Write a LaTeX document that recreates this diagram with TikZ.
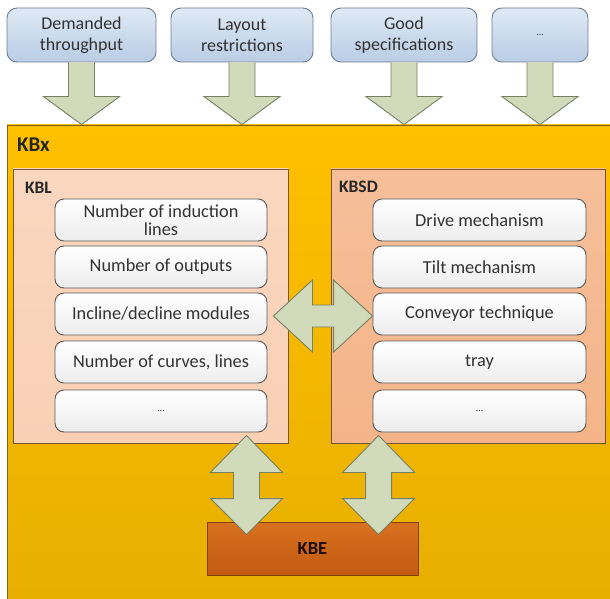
\documentclass[tikz,border=0pt]{standalone}
\usepackage{fontspec}
\setmainfont{Carlito}
\usepackage{tikz}
\usetikzlibrary{calc,positioning}
\definecolor{inBlueTop}  {RGB}{222, 233, 245}
\definecolor{inBlueBot}  {RGB}{185, 205, 229}
\definecolor{inBlueEdge} {RGB}{110, 125, 140}
\definecolor{kbxGold}    {RGB}{255, 192,   0}
\definecolor{kbxGoldBot} {RGB}{232, 175,   0}
\definecolor{kbxEdge}    {RGB}{130, 100,  30}
\definecolor{kblPeach}   {RGB}{249, 208, 180}
\definecolor{kbsdPeach}  {RGB}{244, 180, 136}
\definecolor{peachEdge}  {RGB}{120,  85,  55}
\definecolor{kbeTop}     {RGB}{216, 113,  31}
\definecolor{kbeBot}     {RGB}{194,  90,  18}
\definecolor{kbeEdge}    {RGB}{130,  62,  12}
\definecolor{arrowSage}  {RGB}{210, 218, 188}
\definecolor{arrowEdge}  {RGB}{120, 128, 100}
\definecolor{txtGrey}    {RGB}{ 50,  50,  50}

% block arrows: straight down, double vertical, double horizontal
\newcommand\blkdown[2]{%
  \draw[blockarrow] let \p1=(#1), \p2=(#2) in
    (\x1-13,\y1) -- (\x1-13,\y2+28) -- (\x1-38,\y2+28) -- (\x1,\y2)
    -- (\x1+38,\y2+28) -- (\x1+13,\y2+28) -- (\x1+13,\y1);}
\newcommand\blkdblv[2]{%
  \draw[blockarrow] let \p1=(#1), \p2=(#2) in
    (\x1,\y1) -- (\x1+36,\y1-37) -- (\x1+13,\y1-37) -- (\x1+13,\y2+36)
    -- (\x1+36,\y2+36) -- (\x1,\y2) -- (\x1-36,\y2+36) -- (\x1-13,\y2+36)
    -- (\x1-13,\y1-37) -- (\x1-36,\y1-37) -- cycle;}
\newcommand\blkdblh[2]{%
  \draw[blockarrow] let \p1=(#1), \p2=(#2) in
    (\x1,\y1) -- (\x1+39,\y1+36) -- (\x1+39,\y1+11) -- (\x2-39,\y1+11)
    -- (\x2-39,\y1+36) -- (\x2,\y1) -- (\x2-39,\y1-36) -- (\x2-39,\y1-11)
    -- (\x1+39,\y1-11) -- (\x1+39,\y1-36) -- cycle;}

\begin{document}
\begin{tikzpicture}[x=1pt,y=1pt,
    topbox/.style={draw=inBlueEdge,line width=0.9pt,rounded corners=10pt,
      top color=inBlueTop,bottom color=inBlueBot,minimum height=54pt,
      align=center,text=txtGrey,font=\fontsize{18}{21}\selectfont,inner sep=0pt},
    inbox/.style={draw=black!65,line width=0.9pt,rounded corners=9pt,
      top color=white,bottom color=black!7,minimum width=212pt,
      minimum height=42pt,align=center,text=txtGrey,
      font=\fontsize{18.3}{18.5}\selectfont,inner sep=0pt},
    groupbox/.style={draw=peachEdge,line width=0.9pt,minimum width=275pt,
      minimum height=274pt,inner sep=0pt},
    grouplabel/.style={anchor=base west,font=\fontsize{17.5}{17.5}\bfseries,
      text=black!85},
    blockarrow/.style={fill=arrowSage,draw=arrowEdge,line width=0.9pt,
      line join=miter}]

    \useasboundingbox (0,0) rectangle (610,598);
    \clip (0,0) rectangle (610,598);

    % ════════ inputs (top row) ════════
    \node[topbox,minimum width=149pt] (dem)  at (81.5,563) {Demanded\\throughput};
    \node[topbox,minimum width=142pt] (lay)  at (242,563)  {Layout\\restrictions};
    \node[topbox,minimum width=146pt] (good) at (404,563)  {Good\\specifications};
    \node[topbox,minimum width=96pt]  (more) at (540,563)
      {\fontsize{10}{10}\selectfont\ldots};

    % ════════ KBx frame ════════
    \node[draw=kbxEdge,line width=0.9pt,top color=kbxGold,bottom color=kbxGoldBot,
          minimum width=605pt,minimum height=475pt,inner sep=0pt]
      (kbx) at (309.5,235.5) {};
    \node[anchor=base west,font=\fontsize{21}{21}\bfseries,text=black!85]
      (kbxlbl) at ($(kbx.north west)+(7,-27)$) {KBx};

    % arrows from the inputs into KBx
    \foreach \t in {dem,lay,good,more}{
      \blkdown{\t.south}{\t.south |- kbx.north}
    }

    % ════════ KBL (left) ════════
    \node[groupbox,top color=kblPeach!85!white,bottom color=kblPeach]
      (kbl) at (150.5,292) {};
    \node[grouplabel] (kbllbl) at ($(kbl.north west)+(9,-25)$) {KBL};
    \foreach \nm/\txt/\y in {l1/{Number of induction\\lines}/378,
                             l2/{Number of outputs}/331,
                             l3/{Incline/decline modules}/284,
                             l4/{Number of curves, lines}/236,
                             l5/{\fontsize{10}{10}\selectfont\ldots}/187}{
      \node[inbox] (\nm) at (161,\y) {\txt};
    }

    % ════════ KBSD (right) ════════
    \node[groupbox,minimum width=274pt,top color=kbsdPeach!85!white,
          bottom color=kbsdPeach] (kbsd) at (468,292) {};
    \node[grouplabel] (kbsdlbl) at ($(kbsd.north west)+(5,-24)$) {KBSD};
    \foreach \nm/\txt/\y in {r1/{Drive mechanism}/378,
                             r2/{Tilt mechanism}/331,
                             r3/{Conveyor technique}/284,
                             r4/{tray}/236,
                             r5/{\fontsize{10}{10}\selectfont\ldots}/187}{
      \node[inbox,minimum width=213pt] (\nm) at (479.5,\y) {\txt};
    }

    % ════════ KBE ════════
    \node[draw=kbeEdge,line width=0.9pt,top color=kbeTop,bottom color=kbeBot,
          minimum width=211pt,minimum height=53pt,
          font=\fontsize{18.5}{18.5}\bfseries,text=black!80!kbeEdge]
      (kbe) at (312.5,49.5) {KBE};

    % exchange arrows
    \blkdblh{$(l3.east)+(6,-2)$}{$(r3.west)+(0,-2)$}
    \coordinate (ltop) at ($(l5.south east)+(-21,-3)$);
    \coordinate (rtop) at ($(r5.south west)+(6,-3)$);
    \blkdblv{ltop}{$(ltop |- kbe.north)+(0,-13)$}
    \blkdblv{rtop}{$(rtop |- kbe.north)+(0,-13)$}

\end{tikzpicture}
\end{document}
